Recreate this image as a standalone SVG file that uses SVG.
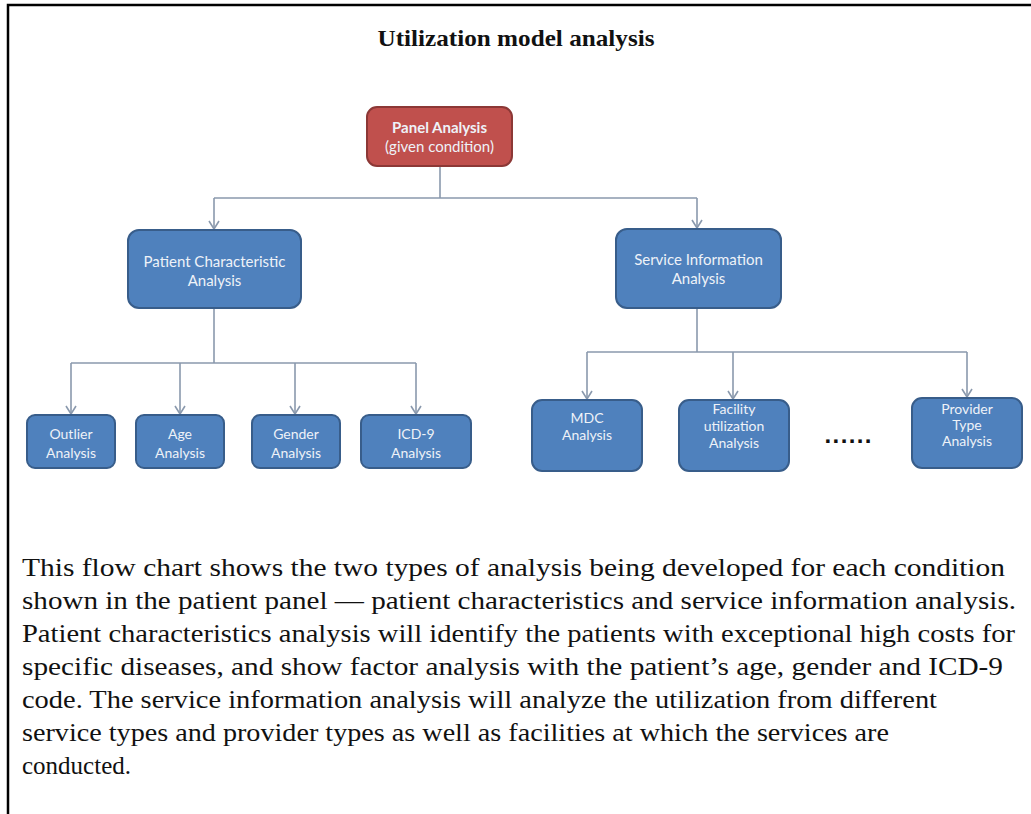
<svg xmlns="http://www.w3.org/2000/svg" width="1031" height="814" viewBox="0 0 1031 814">
<defs>
<marker id="arr" viewBox="0 0 12 10" refX="6" refY="9" markerWidth="12" markerHeight="10" markerUnits="userSpaceOnUse" orient="0">
<path d="M1,1 L6,9 L11,1" fill="none" stroke="#8a99ad" stroke-width="1.6"/>
</marker>
</defs>
<style>
.blue{fill:#4f81bd;stroke:#385d8a;stroke-width:2}
.red{fill:#c0504d;stroke:#8c3836;stroke-width:2}
.nt{font-family:Lato,"Open Sans","Liberation Sans",sans-serif;font-size:15px;fill:#eef2f8;text-anchor:middle}
.sm{font-size:14px}
.b{font-weight:bold}
.con{fill:none;stroke:#8a99ad;stroke-width:1.6}
.para{font-family:"Liberation Serif",serif;font-size:25px;fill:#111}
</style>
<rect width="1031" height="814" fill="#fff"/>
<path d="M8,814 L8,5 L1031,5" fill="none" stroke="#000" stroke-width="2.5"/>
<text x="516" y="46" font-family="'Liberation Serif',serif" font-weight="bold" font-size="24" text-anchor="middle" textLength="277" lengthAdjust="spacingAndGlyphs" fill="#111">Utilization model analysis</text>
<g id="connectors">
<path class="con" d="M440,166 L440,198"/>
<path class="con" d="M214,198 L697,198"/>
<path class="con" d="M214,198 L214,229" marker-end="url(#arr)"/>
<path class="con" d="M697,198 L697,228" marker-end="url(#arr)"/>
<path class="con" d="M214,308 L214,363"/>
<path class="con" d="M71,363 L416,363"/>
<path class="con" d="M71,363 L71,414" marker-end="url(#arr)"/>
<path class="con" d="M180,363 L180,414" marker-end="url(#arr)"/>
<path class="con" d="M295,363 L295,414" marker-end="url(#arr)"/>
<path class="con" d="M416,363 L416,414" marker-end="url(#arr)"/>
<path class="con" d="M697,308 L697,352"/>
<path class="con" d="M587,352 L967,352"/>
<path class="con" d="M587,352 L587,399" marker-end="url(#arr)"/>
<path class="con" d="M733,352 L733,399" marker-end="url(#arr)"/>
<path class="con" d="M967,352 L967,397" marker-end="url(#arr)"/>
</g>
<g id="panel">
<rect class="red" x="367" y="107" width="145" height="59" rx="10"/>
<text class="nt b" x="439.5" y="133">Panel Analysis</text>
<text class="nt" x="439.5" y="152">(given condition)</text>
</g>
<g id="patient">
<rect class="blue" x="128" y="230" width="173" height="78" rx="11"/>
<text class="nt" x="214.5" y="267">Patient Characteristic</text>
<text class="nt" x="214.5" y="286">Analysis</text>
</g>
<g id="service">
<rect class="blue" x="616" y="229" width="165" height="79" rx="11"/>
<text class="nt" x="698.5" y="265">Service Information</text>
<text class="nt" x="698.5" y="284">Analysis</text>
</g>
<g id="outlier">
<rect class="blue" x="27" y="415" width="88" height="53" rx="8"/>
<text class="nt sm" x="71" y="439">Outlier</text>
<text class="nt sm" x="71" y="458">Analysis</text>
</g>
<g id="age">
<rect class="blue" x="136" y="415" width="88" height="53" rx="8"/>
<text class="nt sm" x="180" y="439">Age</text>
<text class="nt sm" x="180" y="458">Analysis</text>
</g>
<g id="gender">
<rect class="blue" x="252" y="415" width="88" height="53" rx="8"/>
<text class="nt sm" x="296" y="439">Gender</text>
<text class="nt sm" x="296" y="458">Analysis</text>
</g>
<g id="icd9">
<rect class="blue" x="361" y="415" width="110" height="53" rx="8"/>
<text class="nt sm" x="416" y="439">ICD-9</text>
<text class="nt sm" x="416" y="458">Analysis</text>
</g>
<g id="mdc">
<rect class="blue" x="532" y="400" width="110" height="71" rx="10"/>
<text class="nt sm" x="587" y="423">MDC</text>
<text class="nt sm" x="587" y="440">Analysis</text>
</g>
<g id="facility">
<rect class="blue" x="679" y="400" width="110" height="71" rx="10"/>
<text class="nt sm" x="734" y="414">Facility</text>
<text class="nt sm" x="734" y="431">utilization</text>
<text class="nt sm" x="734" y="448">Analysis</text>
</g>
<g id="dots">
<text x="848" y="443" font-family="'Liberation Sans',sans-serif" font-weight="bold" font-size="24" text-anchor="middle" textLength="47" fill="#111">......</text>
</g>
<g id="provider">
<rect class="blue" x="912" y="398" width="110" height="70" rx="10"/>
<text class="nt sm" x="967" y="414">Provider</text>
<text class="nt sm" x="967" y="430">Type</text>
<text class="nt sm" x="967" y="446">Analysis</text>
</g>
<g id="paragraph">
<text class="para" x="22" y="576" textLength="983" lengthAdjust="spacingAndGlyphs">This flow chart shows the two types of analysis being developed for each condition</text>
<text class="para" x="22" y="609" textLength="994" lengthAdjust="spacingAndGlyphs">shown in the patient panel — patient characteristics and service information analysis.</text>
<text class="para" x="22" y="642" textLength="993" lengthAdjust="spacingAndGlyphs">Patient characteristics analysis will identify the patients with exceptional high costs for</text>
<text class="para" x="22" y="675" textLength="981" lengthAdjust="spacingAndGlyphs">specific diseases, and show factor analysis with the patient’s age, gender and ICD-9</text>
<text class="para" x="22" y="708" textLength="915" lengthAdjust="spacingAndGlyphs">code. The service information analysis will analyze the utilization from different</text>
<text class="para" x="22" y="741" textLength="867" lengthAdjust="spacingAndGlyphs">service types and provider types as well as facilities at which the services are</text>
<text class="para" x="22" y="774">conducted.</text>
</g>
</svg>
